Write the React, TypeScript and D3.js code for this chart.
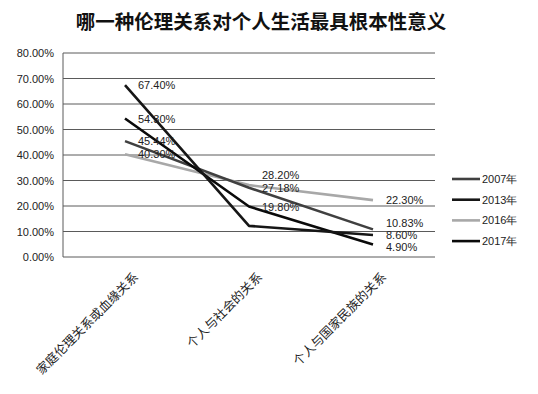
import React from "react";
import * as d3 from "d3";

const title = "哪一种伦理关系对个人生活最具根本性意义";
const categories = ["家庭伦理关系或血缘关系", "个人与社会的关系", "个人与国家民族的关系"];
const years = ["2007年", "2013年", "2016年", "2017年"];
const s2007 = [45.44, 27.18, 10.83];
const s2013 = [67.4, 12.2, 8.6];
const s2016 = [40.3, 28.2, 22.3];
const s2017 = [54.3, 19.8, 4.9];
const showLabel2013 = [true, false, true];
const yTicks = [0, 10, 20, 30, 40, 50, 60, 70, 80];

const seriesColors = ["#404040", "#161616", "#a8a8a8", "#0a0a0a"];
// vertical nudges (px) for readability of a few overlapping labels
const labelNudge: Record<string, number> = { "2016-1": -10, "2007-2": -6, "2013-2": 0, "2017-2": 2 };

export default function App() {
  const W = 538, H = 394;
  const left = 63, right = 435, top = 53, bottom = 257;
  const x = d3.scaleBand().domain(categories).range([left, right]);
  const y = d3.scaleLinear().domain([0, 80]).range([bottom, top]);
  const cx = (c: string) => (x(c) ?? 0) + x.bandwidth() / 2;
  const series = [
    { name: years[0], values: s2007, show: [true, true, true] },
    { name: years[1], values: s2013, show: showLabel2013 },
    { name: years[2], values: s2016, show: [true, true, true] },
    { name: years[3], values: s2017, show: [true, true, true] },
  ];
  const line = d3.line<number>().x((_, i) => cx(categories[i])).y((v) => y(v));
  const font = "'Liberation Sans', Arial, sans-serif";
  const drawOrder = [2, 0, 3, 1];
  return (
    <svg width={W} height={H} style={{ position: "absolute", left: 0, top: 0, background: "#fff" }}>
      <text x={261} y={29} textAnchor="middle" fontSize={19.5} fontWeight={700}
        fontFamily="'Noto Sans CJK SC', sans-serif" fill="#111">{title}</text>
      {yTicks.map((t) => (
        <g key={t}>
          <line x1={left} x2={right} y1={y(t)} y2={y(t)} stroke="#5a5a5a" strokeWidth={1} />
          <text x={54} y={y(t) + 4} textAnchor="end" fontSize={11} fontFamily={font} fill="#222">
            {t.toFixed(2) + "%"}
          </text>
        </g>
      ))}
      <line x1={left} x2={left} y1={top} y2={bottom} stroke="#5a5a5a" strokeWidth={1} />
      {categories.map((c) => (
        <text key={c} transform={`translate(${cx(c) + 14},${bottom + 21}) rotate(-45)`} textAnchor="end"
          fontSize={12.5} fontFamily="'Noto Sans CJK SC', sans-serif" fill="#222">{c}</text>
      ))}
      {drawOrder.map((k) => {
        const s = series[k];
        return (
          <path key={s.name} d={line(s.values) ?? ""} fill="none" stroke={seriesColors[k]}
            strokeWidth={2.6} strokeLinejoin="round" />
        );
      })}
      {series.map((s, k) =>
        s.values.map((v, i) =>
          s.show[i] ? (
            <text key={s.name + i} x={cx(categories[i]) + 13}
              y={y(v) + 4 + (labelNudge[`${s.name.slice(0, 4)}-${i}`] ?? 0)}
              fontSize={11} fontFamily={font} fill="#222">{v.toFixed(2) + "%"}</text>
          ) : null
        )
      )}
      {series.map((s, k) => (
        <g key={s.name} transform={`translate(452,${179 + k * 20.7})`}>
          <line x1={0} x2={28} y1={0} y2={0} stroke={seriesColors[k]} strokeWidth={2.6} />
          <text x={30} y={4} fontSize={11} fontFamily={font} fill="#222">{s.name}</text>
        </g>
      ))}
    </svg>
  );
}
